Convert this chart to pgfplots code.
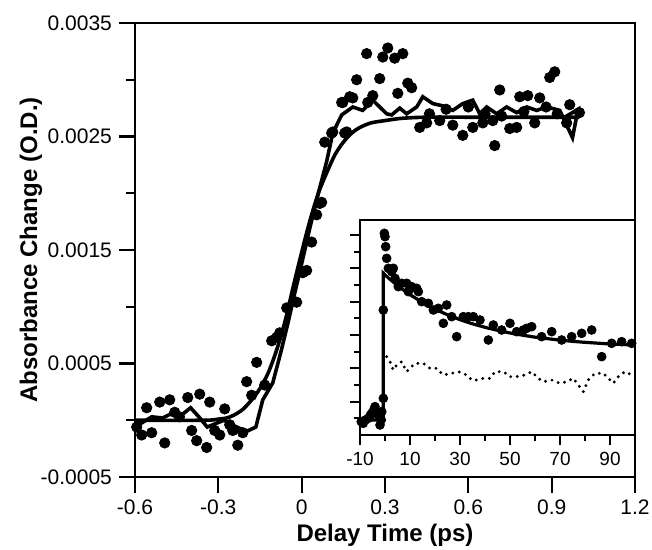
\documentclass[border=0pt]{standalone}
\usepackage{fontspec}
\setmainfont{Liberation Sans}
\usepackage{pgfplots}
\pgfplotsset{compat=1.18}

\begin{document}
\begin{tikzpicture}
\useasboundingbox (-67.5pt,-36.5pt) rectangle (258.5pt,238.5pt);
% main panel
\begin{axis}[
    at={(0pt,0pt)}, anchor=south west,
    scale only axis, width=250pt, height=227pt,
    xmin=-0.6, xmax=1.2, ymin=-0.0005, ymax=0.0035,
    axis line style={line width=1.4pt},
    tick style={line width=1.1pt, black},
    tick align=outside, xtick pos=left, ytick pos=left,
    major tick length=8pt, minor tick length=4.5pt,
    xtick={-0.6,-0.3,0,0.3,0.6,0.9,1.2},
    xticklabels={-0.6,-0.3,0,0.3,0.6,0.9,1.2},
    ytick={-0.0005,0.0005,0.0015,0.0025,0.0035},
    yticklabels={-0.0005,0.0005,0.0015,0.0025,0.0035},
    minor ytick={0,0.001,0.002,0.003},
    scaled y ticks=false, scaled x ticks=false,
    ticklabel style={font=\fontsize{10.5}{12}\selectfont},
    xlabel={Delay Time (ps)},
    ylabel={Absorbance Change (O.D.)},
    label style={font=\fontsize{12}{14}\selectfont\bfseries},
    xlabel style={at={(axis description cs:0.5,-0.143)}, anchor=base},
    ylabel style={at={(axis description cs:-0.208,0.5)}, anchor=center},
]
% data points
\addplot[only marks, mark=*, mark size=2.6pt, mark options={fill=black}] coordinates {
(-0.594,-0.00006) (-0.576,-0.00013) (-0.558,0.00011) (-0.54,-0.00011)
(-0.511,0.00016) (-0.493,-0.0002) (-0.475,0.00018) (-0.457,0.00007)
(-0.44,0.00003) (-0.41,0.0002) (-0.396,-0.00009) (-0.378,-0.00018)
(-0.367,0.00023) (-0.342,-0.00024) (-0.331,0.00016) (-0.313,-0.00009)
(-0.295,-0.00013) (-0.277,0.0001) (-0.259,-0.00004) (-0.248,-0.00009)
(-0.23,-0.00022) (-0.212,-0.00011) (-0.198,0.00034) (-0.18,0.00022)
(-0.162,0.00051) (-0.133,0.00031) (-0.108,0.0007) (-0.09,0.00073)
(-0.079,0.00077) (-0.054,0.00099) (-0.018,0.00104) (0.004,0.0013)
(0.018,0.00132) (0.036,0.00157) (0.054,0.00181) (0.065,0.00191)
(0.072,0.00192) (0.083,0.00245) (0.108,0.00253) (0.112,0.00254)
(0.144,0.0028) (0.148,0.0028) (0.155,0.00253) (0.162,0.00254)
(0.173,0.00285) (0.184,0.00284) (0.198,0.003) (0.234,0.00323)
(0.238,0.0028) (0.256,0.00286) (0.281,0.00301) (0.292,0.0032)
(0.31,0.00328) (0.335,0.00319) (0.346,0.00288) (0.364,0.00323)
(0.382,0.00297) (0.396,0.00293) (0.425,0.00258) (0.45,0.00262)
(0.46,0.0027) (0.497,0.00264) (0.52,0.00274) (0.544,0.0026)
(0.58,0.00251) (0.6,0.00276) (0.616,0.00258) (0.652,0.00262)
(0.66,0.0027) (0.688,0.00264) (0.695,0.00242) (0.713,0.00291)
(0.72,0.00268) (0.749,0.00257) (0.774,0.00258) (0.785,0.00285)
(0.8,0.00272) (0.814,0.00286) (0.839,0.00262) (0.857,0.00284)
(0.88,0.00276) (0.893,0.00302) (0.911,0.00307) (0.92,0.0027)
(0.954,0.00262) (0.965,0.00278) (1.0,0.00271)
};
% second data set (line)
\addplot[line width=1.8pt, line join=miter, no marks] coordinates {
(-0.6,-0.00006) (-0.54,0.00003) (-0.5,0.00002) (-0.46,0.00007)
(-0.43,0.00005) (-0.40,0.00011) (-0.37,0.00003) (-0.34,-0.00006)
(-0.31,-0.00003) (-0.28,0.0) (-0.25,-0.00004) (-0.2,-0.0001)
(-0.165,-0.00006) (-0.14,0.00018) (-0.104,0.00033) (-0.075,0.0006)
(-0.05,0.00085) (-0.025,0.00112) (0.0,0.00138) (0.03,0.0017)
(0.06,0.002) (0.09,0.00228) (0.112,0.00253) (0.144,0.00269)
(0.184,0.00276) (0.22,0.00273) (0.256,0.00282) (0.306,0.0027)
(0.324,0.00269) (0.353,0.00275) (0.378,0.0027) (0.414,0.00276)
(0.436,0.00285) (0.472,0.00279) (0.508,0.00277) (0.544,0.00273)
(0.58,0.00279) (0.616,0.00282) (0.641,0.0027) (0.666,0.00276)
(0.702,0.0027) (0.738,0.00276) (0.774,0.00271) (0.81,0.00276)
(0.846,0.00273) (0.882,0.00276) (0.929,0.00273) (0.975,0.00249)
(0.995,0.00274) (0.94,0.00266)
};
% fit
\addplot[line width=1.8pt, smooth, no marks] coordinates {
(-0.6,0) (-0.35,0) (-0.3,0.00001) (-0.27,0.00002) (-0.24,0.00005)
(-0.21,0.0001) (-0.18,0.00018) (-0.15,0.00028) (-0.12,0.00042)
(-0.09,0.00062) (-0.06,0.00087) (-0.03,0.00118) (0.0,0.00148)
(0.03,0.00176) (0.06,0.002) (0.09,0.00218) (0.12,0.00234)
(0.15,0.00245) (0.18,0.00253) (0.21,0.00258) (0.25,0.00262)
(0.3,0.00264) (0.36,0.00266) (0.45,0.00267) (0.6,0.00267) (1.0,0.00267)
};
\end{axis}
% inset
\begin{axis}[
    at={(112.5pt,21pt)}, anchor=south west,
    scale only axis, width=137.5pt, height=107.5pt,
    xmin=-10, xmax=100, ymin=0, ymax=12.9,
    axis background/.style={fill=white},
    axis line style={line width=1.4pt},
    tick style={line width=1.1pt, black},
    tick align=outside, xtick pos=left, ytick pos=left,
    major tick length=5pt, minor tick length=3pt,
    xtick={-10,10,30,50,70,90},
    xticklabels={-10,10,30,50,70,90},
    minor xtick={0,20,40,60,80},
    ytick={2,4,...,12}, yticklabels={},
    minor ytick={1,3,...,11},
    ticklabel style={font=\fontsize{9.5}{11}\selectfont},
]
\addplot[only marks, mark=*, mark size=2.2pt, mark options={fill=black}] coordinates {
(-10.2,1.0) (-9.5,0.8) (-8.7,0.7) (-7.8,0.9) (-6.7,1.0) (-5.8,1.2)
(-5.3,1.3) (-4.5,1.5) (-4,1.7) (-3.3,1.4) (-2.7,1.2) (-2,0.6)
(-1.5,0.9) (-1.3,1.4) (-0.67,2.2) (-0.67,7.5) (-0.27,12.1) (0,11.9)
(0.27,11.3) (0.67,10.6) (1.33,10.0) (2.67,9.8) (3.33,10.0) (4.0,9.4)
(5.33,8.9) (6.67,9.1) (8.67,9.1) (9.33,8.6) (10.67,8.9) (12.67,8.8)
(13.33,8.6) (14.67,8.0) (17.33,7.9) (19.33,7.5) (21.33,7.6) (23.33,6.7)
(24.67,7.8) (26.67,7.1) (28.67,5.9) (31.33,7.1) (33.33,7.1) (35.33,7.1)
(38,6.9) (41.33,5.7) (43.33,6.6) (46.67,6.3) (50,6.7) (52.67,6.2)
(55.33,6.3) (56.67,6.4) (58.67,6.5) (62.67,5.9) (66.67,6.2) (70.67,5.7)
(74.67,5.9) (78.67,6.1) (82.67,6.3) (86.67,4.7) (90.67,5.5) (94.67,5.6)
(98.67,5.5)
};
\addplot[line width=1.6pt, no marks] coordinates {
(-10.3,0.9) (-0.67,0.9) (-0.67,9.7) (0,9.6) (5,8.96) (10,8.42)
(15,7.95) (20,7.55) (25,7.21) (30,6.92) (35,6.67) (40,6.46) (45,6.28)
(50,6.12) (55,5.99) (60,5.87) (65,5.78) (70,5.69) (75,5.62) (80,5.56)
(85,5.51) (90,5.46) (95,5.43) (100,5.39)
};
\addplot[line width=1.6pt, line cap=round, dash pattern=on 0pt off 3.3pt, no marks] coordinates {
(0.67,4.7) (2,4.4) (3.33,3.9) (4.67,4.2) (6.67,4.4) (8.67,3.8) (10,4.0)
(12,4.3) (15.33,4.3) (18,4.0) (20.67,4.0) (23.33,3.6) (26.67,3.7)
(29.33,3.8) (32.67,3.6) (34.67,3.3) (36.67,3.3) (39.33,3.4) (42,3.4)
(44,3.8) (47.33,3.8) (50,3.5) (52.67,3.5) (56,3.6) (58.67,3.8)
(61.33,3.4) (63.33,3.2) (66.67,3.3) (70,3.1) (72.67,3.2) (75.33,3.4)
(77.33,3.0) (79.33,2.6) (81.33,3.3) (84,3.7) (87.33,3.7) (90,3.3)
(91.33,3.1) (93.33,3.5) (96,3.8) (98.67,3.6)
};
\end{axis}
\end{tikzpicture}
\end{document}
